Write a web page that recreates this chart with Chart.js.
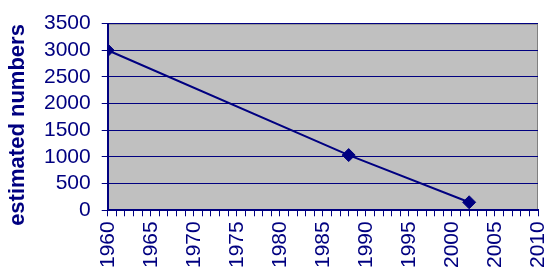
<!DOCTYPE html>
<html>
<head>
<meta charset="utf-8">
<script src="https://cdn.jsdelivr.net/npm/chart.js@4"></script>
<style>
  html, body { margin: 0; padding: 0; background: #fff; }
  #wrap { width: 547px; height: 273px; }
</style>
</head>
<body>
<div id="wrap"><canvas id="c" width="547" height="273"></canvas></div>
<script>
// data
const years = [1960, 1988, 2002];
const estimates = [3000, 1035, 150];
const xTicks = [1960, 1965, 1970, 1975, 1980, 1985, 1990, 1995, 2000, 2005, 2010];
const yTicks = [0, 500, 1000, 1500, 2000, 2500, 3000, 3500];
const yTitle = 'estimated numbers';

const navy = '#000080';

// grey plot background + frame
const plotBg = {
  id: 'plotBg',
  beforeDraw(chart) {
    const a = chart.chartArea, ctx = chart.ctx;
    ctx.save();
    ctx.fillStyle = '#c0c0c0';
    ctx.fillRect(a.left, a.top, a.right - a.left, a.bottom - a.top);
    ctx.strokeStyle = '#808080';
    ctx.lineWidth = 1;
    ctx.strokeRect(a.left + 0.5, a.top + 0.5, a.right - a.left - 1, a.bottom - a.top - 1);
    ctx.restore();
  }
};

// y title sits a bit lower than the axis centre in the original
const sideTitle = {
  id: 'sideTitle',
  afterDraw(chart) {
    const ctx = chart.ctx;
    ctx.save();
    ctx.translate(18, 125);
    ctx.rotate(-Math.PI / 2);
    ctx.fillStyle = navy;
    ctx.font = 'bold 22px "Liberation Sans"';
    ctx.textAlign = 'center';
    ctx.textBaseline = 'middle';
    ctx.fillText(yTitle, 0, 0);
    ctx.restore();
  }
};

new Chart(document.getElementById('c'), {
  type: 'line',
  data: {
    datasets: [{
      data: years.map((y, i) => ({ x: y, y: estimates[i] })),
      borderColor: navy,
      borderWidth: 2,
      backgroundColor: navy,
      pointStyle: 'rectRot',
      pointRadius: 6.5,
      pointBorderWidth: 1,
      tension: 0
    }]
  },
  options: {
    responsive: false,
    animation: false,
    layout: { padding: { top: 11, right: 9, left: 33, bottom: 0 } },
    plugins: { legend: { display: false }, tooltip: { enabled: false } },
    scales: {
      x: {
        type: 'linear',
        min: 1960,
        max: 2010,
        afterBuildTicks(axis) {
          const t = [];
          for (let y = 1960; y <= 2010; y++) t.push({ value: y });
          axis.ticks = t;
        },
        afterFit(axis) {
          axis.paddingRight = 0;
          axis.paddingLeft = 0;
        },
        ticks: {
          autoSkip: false,
          minRotation: 90,
          maxRotation: 90,
          padding: 5,
          color: navy,
          font: { family: 'Liberation Sans', size: 21 },
          callback: v => xTicks.includes(v) ? String(v) : ''
        },
        grid: {
          drawOnChartArea: false,
          color: navy,
          tickLength: 6,
          tickColor: navy
        },
        border: { color: navy, width: 2 }
      },
      y: {
        min: 0,
        max: 3500,
        afterBuildTicks(axis) {
          axis.ticks = yTicks.map(v => ({ value: v }));
        },
        ticks: {
          autoSkip: false,
          padding: 11,
          color: navy,
          font: { family: 'Liberation Sans', size: 21 },
          callback: v => String(v)
        },
        grid: {
          color: navy,
          lineWidth: 1,
          tickLength: 6,
          tickColor: navy
        },
        border: { color: navy, width: 2 },
        title: { display: false }
      }
    }
  },
  plugins: [plotBg, sideTitle]
});
</script>
</body>
</html>
